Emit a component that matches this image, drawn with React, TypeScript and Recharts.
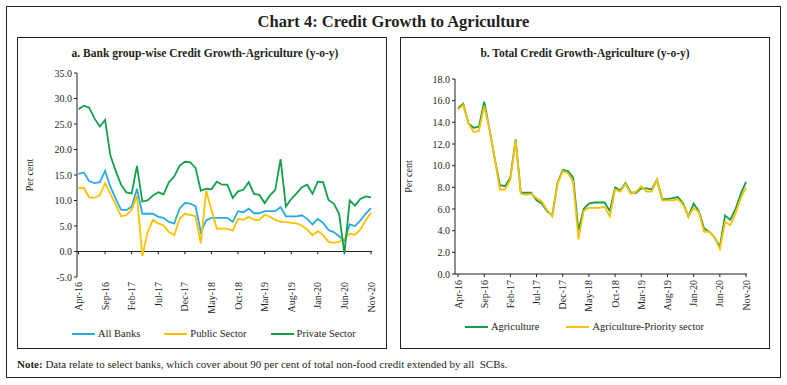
import React from 'react';
import { LineChart, Line, XAxis, YAxis, ReferenceLine } from 'recharts';

const months = [
  'Apr-16', 'May-16', 'Jun-16', 'Jul-16', 'Aug-16', 'Sep-16', 'Oct-16', 'Nov-16', 'Dec-16',
  'Jan-17', 'Feb-17', 'Mar-17', 'Apr-17', 'May-17', 'Jun-17', 'Jul-17', 'Aug-17', 'Sep-17', 'Oct-17', 'Nov-17', 'Dec-17',
  'Jan-18', 'Feb-18', 'Mar-18', 'Apr-18', 'May-18', 'Jun-18', 'Jul-18', 'Aug-18', 'Sep-18', 'Oct-18', 'Nov-18', 'Dec-18',
  'Jan-19', 'Feb-19', 'Mar-19', 'Apr-19', 'May-19', 'Jun-19', 'Jul-19', 'Aug-19', 'Sep-19', 'Oct-19', 'Nov-19', 'Dec-19',
  'Jan-20', 'Feb-20', 'Mar-20', 'Apr-20', 'May-20', 'Jun-20', 'Jul-20', 'Aug-20', 'Sep-20', 'Oct-20', 'Nov-20',
];
const tickLabels = ['Apr-16', 'Sep-16', 'Feb-17', 'Jul-17', 'Dec-17', 'May-18', 'Oct-18', 'Mar-19', 'Aug-19', 'Jan-20', 'Jun-20', 'Nov-20'];

// panel a
const allBanks = [15.2, 15.5, 13.8, 13.4, 13.6, 15.8, 12.7, 10.3, 8.2, 8.1, 8.8, 12.3, 7.4, 7.4, 7.4, 6.8, 6.6, 5.8, 5.5, 8.4, 9.5, 9.4, 8.9, 3.8, 6.1, 6.6, 6.6, 6.6, 6.6, 5.8, 7.9, 7.7, 8.4, 7.5, 7.5, 7.9, 7.9, 7.9, 8.7, 6.9, 6.9, 6.9, 7.1, 6.4, 5.3, 6.4, 5.6, 4.2, 3.8, 3.0, 2.1, 5.3, 5.0, 6.1, 7.4, 8.5];
const publicSector = [12.4, 12.5, 10.6, 10.5, 11.0, 13.4, 11.3, 9.2, 6.9, 7.1, 8.2, 11.0, -0.9, 3.8, 6.2, 5.5, 5.1, 3.8, 3.2, 6.4, 7.4, 7.2, 6.9, 1.6, 11.9, 8.2, 4.5, 4.5, 4.5, 4.1, 6.4, 6.2, 6.8, 6.2, 6.2, 7.2, 6.8, 6.2, 5.8, 5.8, 5.6, 5.5, 5.1, 4.3, 3.2, 4.0, 3.2, 1.9, 1.7, 1.9, 2.5, 3.5, 3.3, 4.3, 6.1, 7.6];
const privateSector = [27.9, 28.6, 28.2, 26.1, 24.5, 25.8, 18.8, 15.8, 13.1, 11.6, 11.4, 16.8, 9.8, 10.0, 11.0, 11.6, 11.2, 13.6, 14.7, 16.8, 17.6, 17.5, 16.4, 11.9, 12.3, 12.2, 13.7, 13.1, 13.1, 10.5, 11.8, 12.1, 13.6, 11.3, 11.1, 9.5, 11.0, 12.1, 18.1, 8.8, 10.3, 11.4, 12.6, 13.1, 11.3, 13.7, 13.6, 10.1, 9.4, 7.4, -0.4, 10.0, 9.0, 10.3, 10.8, 10.6];
const leftTicks = [-5, 0, 5, 10, 15, 20, 25, 30, 35];

// panel b
const agriculture = [15.3, 15.7, 13.9, 13.5, 13.6, 15.9, 13.4, 10.7, 8.2, 8.1, 8.9, 12.4, 7.5, 7.5, 7.5, 6.8, 6.5, 5.8, 5.4, 8.4, 9.6, 9.5, 8.9, 4.0, 6.0, 6.5, 6.6, 6.6, 6.6, 5.8, 8.0, 7.7, 8.4, 7.5, 7.5, 7.9, 7.9, 7.8, 8.7, 6.9, 6.9, 7.0, 7.1, 6.5, 5.3, 6.5, 5.8, 4.2, 3.9, 3.4, 2.5, 5.4, 5.0, 6.0, 7.4, 8.5];
const agriPriority = [15.2, 15.6, 13.9, 13.1, 13.2, 15.5, 13.4, 10.7, 7.8, 7.8, 8.7, 12.3, 7.4, 7.3, 7.4, 7.0, 6.7, 5.9, 5.3, 8.3, 9.5, 9.3, 8.5, 3.2, 5.8, 6.1, 6.1, 6.1, 6.2, 5.3, 7.8, 7.6, 8.3, 7.4, 7.6, 8.1, 7.6, 7.6, 8.7, 6.8, 6.8, 6.8, 6.9, 6.4, 5.3, 6.1, 5.7, 3.9, 3.9, 3.4, 2.3, 4.8, 4.5, 5.6, 7.0, 8.0];
const rightTicks = [0, 2, 4, 6, 8, 10, 12, 14, 16, 18];

const FONT = '"Liberation Serif", "DejaVu Serif", serif';
const INK = '#231f20';
const BLUE = '#29abe2';
const YELLOW = '#ffc000';
const GREEN = '#12a04a';

const bankData = months.map((m, i) => ({
  month: m,
  allBanks: allBanks[i],
  publicSector: publicSector[i],
  privateSector: privateSector[i],
}));

const totalData = months.map((m, i) => ({
  month: m,
  agriculture: agriculture[i],
  agriPriority: agriPriority[i],
}));

const RotatedTick = (props: any) => {
  const { x, y, payload } = props;
  return (
    <text
      x={x}
      y={y}
      transform={`rotate(-90, ${x}, ${y})`}
      textAnchor="end"
      dominantBaseline="central"
      fontSize={10}
      fontFamily={FONT}
      fill={INK}
    >
      {payload.value}
    </text>
  );
};

const yTickStyle = { fontSize: 10, fontFamily: FONT, fill: INK };

const LegendRow = ({ items, left, top, gap }: { items: { name: string; color: string }[]; left: number; top: number; gap: number }) => (
  <div style={{ position: 'absolute', left, top, display: 'flex', alignItems: 'center', fontSize: 10.5, lineHeight: '12px', whiteSpace: 'nowrap' }}>
    {items.map((it, i) => (
      <div key={it.name} style={{ display: 'flex', alignItems: 'center', marginLeft: i === 0 ? 0 : gap }}>
        <span style={{ display: 'inline-block', width: 23, height: 2, background: it.color, marginRight: 3 }} />
        <span>{it.name}</span>
      </div>
    ))}
  </div>
);

const PanelBox = ({ left }: { left: number }) => (
  <div style={{ position: 'absolute', left, top: 37, width: 370, height: 312, border: `1px solid ${INK}`, boxSizing: 'border-box' }} />
);

export default function App() {
  return (
    <div style={{ position: 'absolute', left: 0, top: 0, width: 787, height: 385, background: '#fff', fontFamily: FONT, color: INK }}>
      <div style={{ position: 'absolute', left: 6, top: 6, width: 775, height: 372, border: `1px solid ${INK}`, boxSizing: 'border-box' }} />
      <div style={{ position: 'absolute', left: 0, top: 12, width: 787, textAlign: 'center', fontSize: 16.5, fontWeight: 'bold' }}>
        Chart 4: Credit Growth to Agriculture
      </div>

      {/* panel a */}
      <PanelBox left={17} />
      <div style={{ position: 'absolute', left: 20, top: 47, width: 370, textAlign: 'center', fontSize: 11.5, fontWeight: 'bold' }}>
        a. Bank group-wise Credit Growth-Agriculture (y-o-y)
      </div>
      <div style={{ position: 'absolute', left: 17, top: 37 }}>
        <LineChart width={370} height={312} data={bankData} margin={{ top: 36, right: 15, left: 0, bottom: 30 }}>
          <XAxis
            dataKey="month"
            ticks={tickLabels}
            interval={0}
            axisLine={false}
            tickLine={false}
            tickSize={3}
            tickMargin={2}
            height={42}
            padding={{ left: 1.5, right: 1 }}
            tick={<RotatedTick />}
          />
          <YAxis
            domain={[-5, 35]}
            ticks={leftTicks}
            width={60}
            tickSize={3}
            tickMargin={2}
            stroke={INK}
            tick={yTickStyle}
            tickFormatter={(v: number) => v.toFixed(1)}
            label={{ value: 'Per cent', angle: -90, position: 'insideLeft', offset: 12, style: { fontSize: 10, fontFamily: FONT, fill: INK, textAnchor: 'middle' } }}
          />
          <ReferenceLine y={0} stroke={INK} strokeWidth={1} />
          {tickLabels.map((t) => (
            <ReferenceLine key={t} segment={[{ x: t, y: 0 }, { x: t, y: -0.55 }]} stroke={INK} strokeWidth={1} />
          ))}
          <Line dataKey="allBanks" stroke={BLUE} strokeWidth={1.8} dot={false} isAnimationActive={false} />
          <Line dataKey="publicSector" stroke={YELLOW} strokeWidth={1.8} dot={false} isAnimationActive={false} />
          <Line dataKey="privateSector" stroke={GREEN} strokeWidth={1.8} dot={false} isAnimationActive={false} />
        </LineChart>
      </div>
      <LegendRow
        left={72}
        top={328}
        gap={24}
        items={[
          { name: 'All Banks', color: BLUE },
          { name: 'Public Sector', color: YELLOW },
          { name: 'Private Sector', color: GREEN },
        ]}
      />

      {/* panel b */}
      <PanelBox left={400} />
      <div style={{ position: 'absolute', left: 400, top: 47, width: 370, textAlign: 'center', fontSize: 11.5, fontWeight: 'bold' }}>
        b. Total Credit Growth-Agriculture (y-o-y)
      </div>
      <div style={{ position: 'absolute', left: 400, top: 37 }}>
        <LineChart width={370} height={312} data={totalData} margin={{ top: 42, right: 23, left: 0, bottom: 33 }}>
          <XAxis
            dataKey="month"
            ticks={tickLabels}
            interval={0}
            stroke={INK}
            tickSize={3}
            tickMargin={3}
            height={42}
            padding={{ left: 3, right: 1 }}
            tick={<RotatedTick />}
          />
          <YAxis
            domain={[0, 18]}
            ticks={rightTicks}
            width={55}
            tickSize={3}
            tickMargin={2}
            stroke={INK}
            tick={yTickStyle}
            tickFormatter={(v: number) => v.toFixed(1)}
            label={{ value: 'Per cent', angle: -90, position: 'insideLeft', offset: 8, style: { fontSize: 10, fontFamily: FONT, fill: INK, textAnchor: 'middle' } }}
          />
          <Line dataKey="agriculture" stroke={GREEN} strokeWidth={1.8} dot={false} isAnimationActive={false} />
          <Line dataKey="agriPriority" stroke={YELLOW} strokeWidth={1.8} dot={false} isAnimationActive={false} />
        </LineChart>
      </div>
      <LegendRow
        left={465}
        top={321}
        gap={27}
        items={[
          { name: 'Agriculture', color: GREEN },
          { name: 'Agriculture-Priority sector', color: YELLOW },
        ]}
      />

      <div style={{ position: 'absolute', left: 17, top: 358, fontSize: 11, whiteSpace: 'nowrap' }}>
        <b>Note:</b> Data relate to select banks, which cover about 90 per cent of total non-food credit extended by all&nbsp; SCBs.
      </div>
    </div>
  );
}
